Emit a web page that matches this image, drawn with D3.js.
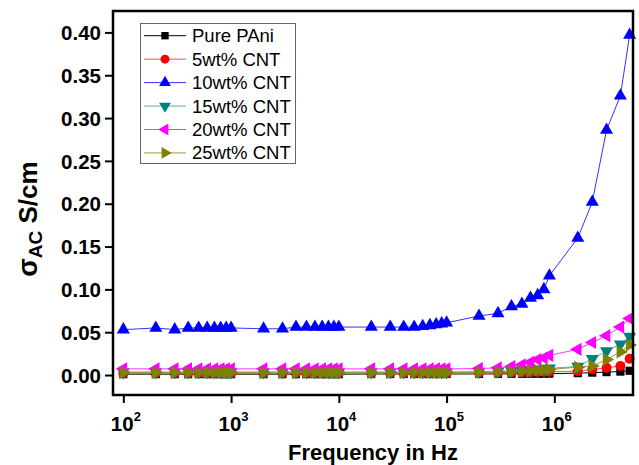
<!DOCTYPE html>
<html><head><meta charset="utf-8">
<script src="https://cdnjs.cloudflare.com/ajax/libs/d3/7.8.5/d3.min.js"></script>
<style>body{margin:0;background:#fff}svg{display:block}</style>
</head><body>
<svg id="c" width="639" height="465"></svg>
<script>
const freq = [100,200,300,400,500,600,700,800,900,1000,
  2000,3000,4000,5000,6000,7000,8000,9000,10000,
  20000,30000,40000,50000,60000,70000,80000,90000,100000,
  200000,300000,400000,500000,600000,700000,800000,900000,
  1650000,2250000,3050000,4100000,5000000];
const pure = [0.001,0.001,0.001,0.001,0.001,0.001,0.001,0.001,0.001,0.001,
  0.001,0.001,0.001,0.001,0.001,0.001,0.001,0.001,0.001,
  0.0012,0.0012,0.0012,0.0012,0.0012,0.0012,0.0012,0.0012,0.0012,
  0.0013,0.0013,0.0014,0.0014,0.0015,0.0015,0.0016,0.0016,
  0.0022,0.0028,0.0034,0.0040,0.0050];
const cnt5 = [0.002,0.002,0.002,0.002,0.002,0.002,0.002,0.002,0.002,0.002,
  0.002,0.002,0.002,0.002,0.002,0.002,0.002,0.002,0.002,
  0.0022,0.0022,0.0022,0.0022,0.0022,0.0022,0.0022,0.0022,0.0022,
  0.0026,0.0028,0.003,0.0031,0.0033,0.0035,0.0037,0.0039,
  0.0045,0.0065,0.0085,0.0105,0.019];
const cnt10 = [0.053,0.055,0.053,0.055,0.055,0.055,0.055,0.055,0.055,0.055,
  0.054,0.054,0.056,0.056,0.056,0.056,0.056,0.056,0.056,
  0.056,0.056,0.056,0.056,0.057,0.058,0.059,0.060,0.061,
  0.069,0.072,0.080,0.083,0.090,0.093,0.100,0.116,
  0.160,0.202,0.286,0.326,0.397];
const cnt15 = [0.0035,0.0035,0.0035,0.0035,0.0035,0.0035,0.0035,0.0035,0.0035,0.0035,
  0.0035,0.0035,0.0035,0.0035,0.0035,0.0035,0.0035,0.0035,0.0035,
  0.0035,0.0035,0.0035,0.0035,0.0035,0.0035,0.0035,0.0035,0.0035,
  0.004,0.0045,0.005,0.0055,0.006,0.0065,0.007,0.0078,
  0.010,0.019,0.028,0.036,0.045];
const cnt20 = [0.0072,0.0072,0.0072,0.0072,0.0072,0.0072,0.0072,0.0072,0.0072,0.0072,
  0.0072,0.0072,0.0072,0.0072,0.0072,0.0072,0.0072,0.0072,0.0072,
  0.0072,0.0072,0.0072,0.0072,0.0072,0.0072,0.0072,0.0072,0.0072,
  0.0075,0.0085,0.010,0.012,0.015,0.018,0.020,0.023,
  0.030,0.038,0.046,0.056,0.066];
const cnt25 = [0.003,0.003,0.003,0.003,0.003,0.003,0.003,0.003,0.003,0.003,
  0.003,0.003,0.003,0.003,0.003,0.003,0.003,0.003,0.003,
  0.003,0.003,0.003,0.003,0.003,0.003,0.003,0.003,0.003,
  0.0032,0.0035,0.004,0.0045,0.005,0.0055,0.006,0.0065,
  0.0092,0.0105,0.018,0.027,0.035];
const seriesNames = ["Pure PAni","5wt% CNT","10wt% CNT","15wt% CNT","20wt% CNT","25wt% CNT"];
const seriesValues = [pure,cnt5,cnt10,cnt15,cnt20,cnt25];
const seriesColors = ["#000000","#ff0000","#0000ff","#008080","#ff00ff","#808000"];
const lineColors = ["#000000","#ff5050","#3333ff","#55aaaa","#ff33ff","#99993a"];
const seriesShapes = ["square","circle","up","down","left","right"];
const yTicks = [0,0.05,0.10,0.15,0.20,0.25,0.30,0.35,0.40];
const xTicks = [1e2,1e3,1e4,1e5,1e6];

const L=113,R=633,T=11,B=395;
const svg=d3.select("#c");
const x=d3.scaleLog().domain([Math.pow(10,1.904),Math.pow(10,6.730)]).range([L,R]);
const y=d3.scaleLinear().domain([-0.0233,0.425]).range([B,T]);

function sym(shape,size){
  const tri=d3.symbol().type(d3.symbolTriangle).size(size)();
  const rot={up:0,down:180,left:-90,right:90}[shape];
  if(shape==="square") return {d:d3.symbol().type(d3.symbolSquare).size(size*0.9)(),rot:0};
  if(shape==="circle") return {d:d3.symbol().type(d3.symbolCircle).size(size*1.05)(),rot:0};
  return {d:tri,rot:rot};
}

// series
seriesValues.forEach((vals,i)=>{
  const data=freq.map((f,k)=>[f,vals[k]]);
  const g=svg.append("g");
  g.append("path").datum(data)
    .attr("fill","none").attr("stroke",lineColors[i]).attr("stroke-width",1)
    .attr("d",d3.line().x(d=>x(d[0])).y(d=>y(d[1])));
  const s=sym(seriesShapes[i],74);
  g.selectAll("path.m").data(data).enter().append("path").attr("class","m")
    .attr("d",s.d).attr("fill",seriesColors[i])
    .attr("transform",d=>`translate(${x(d[0])},${y(d[1])}) rotate(${s.rot})`);
});

// frame
svg.append("rect").attr("x",L).attr("y",T).attr("width",R-L).attr("height",B-T)
  .attr("fill","none").attr("stroke","#000").attr("stroke-width",2.5);

// y axis
const ya=svg.append("g").attr("transform",`translate(${L},0)`)
  .call(d3.axisLeft(y).tickValues(yTicks).tickSize(8).tickPadding(4).tickFormat(d3.format(".2f")));
ya.select(".domain").remove();
ya.selectAll(".tick line").attr("stroke","#000").attr("stroke-width",2);
ya.selectAll(".tick text").attr("font-family","Liberation Sans, Arial, sans-serif")
  .attr("font-weight","bold").attr("font-size","20.5px").attr("fill","#000").attr("dy","0.35em");

// x axis
const xa=svg.append("g").attr("transform",`translate(0,${B})`)
  .call(d3.axisBottom(x).tickValues(xTicks).tickSize(8).tickFormat(""));
xa.select(".domain").remove();
xa.selectAll(".tick line").attr("stroke","#000").attr("stroke-width",2);
xa.selectAll(".tick").each(function(d){
  const t=d3.select(this).append("text").attr("y",36).attr("x",2)
    .attr("text-anchor","middle").attr("fill","#000")
    .attr("font-family","Liberation Sans, Arial, sans-serif").attr("font-weight","bold").attr("font-size","20.5px");
  t.append("tspan").text("10");
  t.append("tspan").attr("font-size","13px").attr("dy","-10").text(String(Math.round(Math.log10(d))));
});

// axis titles
svg.append("text").attr("x",373).attr("y",460).attr("text-anchor","middle")
  .attr("font-family","Liberation Sans, Arial, sans-serif").attr("font-weight","bold").attr("font-size","22px")
  .text("Frequency in Hz");
const yt=svg.append("text").attr("transform","translate(37,219) rotate(-90)").attr("text-anchor","middle")
  .attr("font-family","Liberation Sans, Arial, sans-serif").attr("font-weight","bold").attr("font-size","26px");
yt.append("tspan").attr("font-size","27px").text("σ");
yt.append("tspan").attr("font-size","19px").attr("dy","5").text("AC");
yt.append("tspan").attr("dy","-5").text(" S/cm");

// legend
const lg=svg.append("g");
lg.append("rect").attr("x",140.5).attr("y",23.5).attr("width",155).attr("height",140)
  .attr("fill","#fff").attr("stroke","#666").attr("stroke-width",1);
seriesNames.forEach((n,i)=>{
  const cy=35.7+i*23.45;
  lg.append("line").attr("x1",144).attr("x2",186).attr("y1",cy).attr("y2",cy)
    .attr("stroke",lineColors[i]).attr("stroke-width",1);
  const s=sym(seriesShapes[i],60);
  lg.append("path").attr("d",s.d).attr("fill",seriesColors[i])
    .attr("transform",`translate(165,${cy}) rotate(${s.rot})`);
  lg.append("text").attr("x",192).attr("y",cy+6.5)
    .attr("font-family","Liberation Sans, Arial, sans-serif").attr("font-size","18.5px").attr("fill","#000")
    .text(n);
});
</script>
</body></html>
